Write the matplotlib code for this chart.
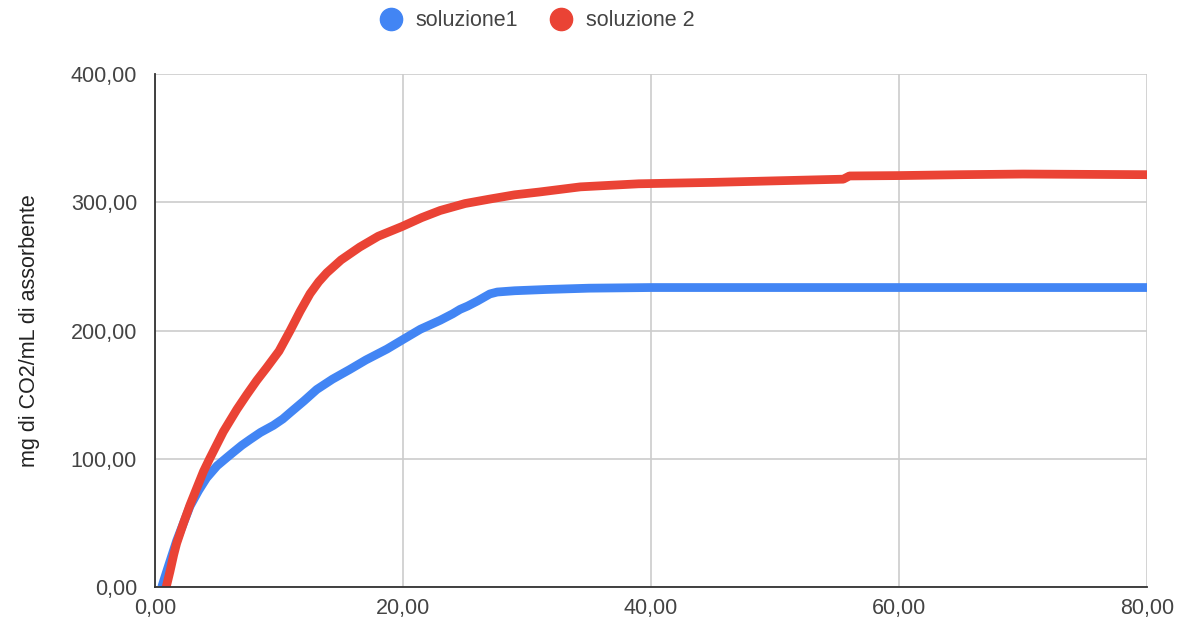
import matplotlib.pyplot as plt
from matplotlib.ticker import FuncFormatter
from matplotlib.lines import Line2D

# tempo (x) e mg di CO2/mL di assorbente (y)
x_sol1 = [0.54, 1.0, 1.74, 2.82, 3.5, 4.15, 5.0, 5.8, 6.3, 7.0, 7.66, 8.5, 9.54, 10.3,
          10.9, 12.0, 13.04, 14.3, 15.7, 17.0, 18.7, 20.0, 21.4, 23.0, 24.0, 24.6, 25.2,
          26.0, 27.0, 27.6, 29.0, 31.6, 35.0, 40.0, 50.0, 60.0, 70.0, 80.0]
y_sol1 = [0.0, 14.0, 36.0, 63.0, 75.0, 85.0, 94.5, 101.0, 105.0, 110.5, 115.0, 120.5,
          126.0, 131.0, 136.0, 145.0, 154.0, 162.0, 169.6, 177.0, 185.5, 193.0, 201.0,
          208.0, 213.0, 216.5, 219.0, 223.0, 228.5, 230.0, 231.0, 232.0, 233.0, 233.5,
          233.5, 233.5, 233.5, 233.5]

x_sol2 = [0.9, 1.2, 1.5, 1.74, 2.3, 2.82, 3.4, 3.9, 4.4, 5.5, 6.6, 7.4, 8.2, 9.0, 10.0,
          10.9, 11.7, 12.5, 13.2, 13.85, 15.0, 16.5, 18.0, 19.9, 21.5, 23.0, 25.0, 27.0,
          29.0, 31.0, 34.3, 39.0, 45.0, 50.0, 55.5, 56.0, 60.0, 65.0, 70.0, 80.0]
y_sol2 = [0.0, 12.0, 25.0, 34.0, 50.0, 64.0, 78.0, 90.0, 100.0, 121.0, 138.5, 150.0,
          161.0, 171.0, 184.0, 200.0, 215.0, 228.7, 238.0, 245.0, 255.0, 265.0, 273.5,
          281.0, 288.0, 293.6, 299.0, 302.5, 305.8, 308.0, 312.0, 314.4, 315.5, 316.7,
          318.0, 320.5, 320.8, 321.5, 322.0, 321.5]

blu = '#4285F4'
rosso = '#EA4335'
testo = '#444444'

plt.rcParams['font.family'] = ['Liberation Sans', 'DejaVu Sans']

fig = plt.figure(figsize=(11.9, 6.23), dpi=100)
ax = fig.add_axes([0.1303, 0.0578, 0.8336, 0.8234])

ax.plot(x_sol1, y_sol1, color=blu, lw=6.3, solid_capstyle='butt',
        solid_joinstyle='round', zorder=3)
ax.plot(x_sol2, y_sol2, color=rosso, lw=6.3, solid_capstyle='butt',
        solid_joinstyle='round', zorder=4)

ax.set_xlim(0, 80)
ax.set_ylim(0, 400)
ax.set_xticks([0, 20, 40, 60, 80])
ax.set_yticks([0, 100, 200, 300, 400])
virgola = FuncFormatter(lambda v, p: f'{v:.2f}'.replace('.', ','))
ax.xaxis.set_major_formatter(virgola)
ax.yaxis.set_major_formatter(virgola)
ax.tick_params(length=0, labelsize=15.5, labelcolor=testo)
ax.tick_params(axis='x', pad=8)
ax.tick_params(axis='y', pad=13)

ax.grid(True, color='#cccccc', lw=1.2, zorder=0)
for s in ['top', 'right']:
    ax.spines[s].set_visible(False)
for s in ['left', 'bottom']:
    ax.spines[s].set_color('#333333')
    ax.spines[s].set_linewidth(1.3)
    ax.spines[s].set_zorder(5)

ax.set_ylabel('mg di CO2/mL di assorbente', fontsize=15.5, color='#222222', labelpad=22)

handles = [Line2D([], [], ls='none', marker='o', ms=16, color=blu),
           Line2D([], [], ls='none', marker='o', ms=16, color=rosso)]
fig.legend(handles, ['soluzione1', 'soluzione 2'], loc='center', ncol=2,
           bbox_to_anchor=(0.447, 0.967), frameon=False, fontsize=15.5,
           labelcolor=testo, handletextpad=0.15, columnspacing=1.0)

fig.savefig('out.png', dpi=100)
